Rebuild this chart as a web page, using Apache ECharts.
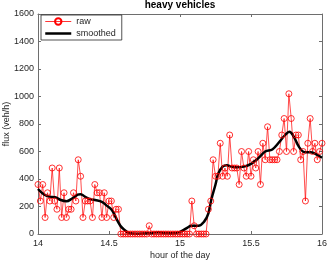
<!DOCTYPE html>
<html>
<head>
<meta charset="utf-8">
<script src="https://cdn.jsdelivr.net/npm/echarts@6/dist/echarts.min.js"></script>
<style>html,body{margin:0;padding:0;background:#fff}#c{width:327px;height:263px}</style>
</head>
<body>
<div id="c"></div>
<script>
// raw flux, one value per minute from 14:00 to 16:00 (veh/h)
var rawStartHour = 14;
var rawStepHours = 1 / 60;
var rawValues = [
  360,240,360,120,300,240,480,240,180,480,
  120,300,120,180,180,300,240,540,420,120,
  240,240,240,120,360,300,300,120,300,120,
  240,240,120,180,180,0,0,0,0,0,
  0,0,0,0,0,0,0,60,0,0,
  0,0,0,0,0,0,0,0,0,0,
  0,0,0,0,0,240,60,0,0,0,
  0,0,180,240,540,420,420,660,420,480,
  420,720,480,480,480,360,600,480,420,600,
  420,540,480,600,360,660,540,780,540,540,
  540,540,600,720,840,600,1020,840,600,720,
  720,540,600,240,660,840,600,660,540,600,
  660
];
// smoothed curve
var smoothHours = [14.00,14.04,14.08,14.12,14.16,14.20,14.24,14.28,14.30,14.33,14.37,14.41,14.45,14.48,14.52,14.55,14.58,14.60,14.64,14.70,14.80,14.85,14.90,14.95,15.00,15.05,15.08,15.13,15.17,15.20,15.22,15.25,15.27,15.30,15.33,15.36,15.40,15.45,15.50,15.55,15.60,15.65,15.70,15.74,15.77,15.80,15.84,15.88,15.92,15.95,16.00];
var smoothValues = [327,289,272,268,247,238,258,286,290,272,252,246,234,210,175,115,60,38,8,2,8,12,8,5,15,45,60,60,90,150,247,360,440,490,500,490,485,490,510,550,600,615,670,720,744,710,630,595,595,585,555];
var xTicks = [14, 14.5, 15, 15.5, 16];
var yTicks = [0, 200, 400, 600, 800, 1000, 1200, 1400, 1600];

var rawData = rawValues.map(function (v, i) { return [rawStartHour + i * rawStepHours, v]; });
var smoothData = smoothHours.map(function (h, i) { return [h, smoothValues[i]]; });

var font = 'Liberation Sans';
var axisCol = '#6e6e6e';
var txtCol = '#262626';

function xAx(pos, show) {
  return {
    type: 'value', position: pos, min: xTicks[0], max: xTicks[xTicks.length - 1], interval: 0.5,
    axisLine: { show: true, onZero: false, lineStyle: { color: axisCol, width: 1 } },
    axisTick: { show: true, inside: true, length: 3, lineStyle: { color: axisCol } },
    axisLabel: { show: show, color: txtCol, fontSize: 9, fontFamily: font, margin: 5,
      formatter: function (v) { return String(v); } },
    splitLine: { show: false },
    name: show ? 'hour of the day' : '', nameLocation: 'middle', nameGap: 17, nameMoveOverlap: false,
    nameTextStyle: { color: txtCol, fontSize: 9, fontFamily: font }
  };
}
function yAx(pos, show) {
  return {
    type: 'value', position: pos, min: yTicks[0], max: yTicks[yTicks.length - 1], interval: 200,
    axisLine: { show: true, onZero: false, lineStyle: { color: axisCol, width: 1 } },
    axisTick: { show: true, inside: true, length: 3, lineStyle: { color: axisCol } },
    axisLabel: { show: show, color: txtCol, fontSize: 9, fontFamily: font, margin: 4,
      formatter: function (v) { return String(v); } },
    splitLine: { show: false },
    name: show ? 'flux (veh/h)' : '', nameLocation: 'middle', nameGap: 27, nameRotate: 90, nameMoveOverlap: false,
    nameTextStyle: { color: txtCol, fontSize: 9, fontFamily: font }
  };
}

var chart = echarts.init(document.getElementById('c'), null, { renderer: 'canvas' });
chart.setOption({
  animation: false,
  backgroundColor: '#ffffff',
  title: {
    text: 'heavy vehicles', left: 180, textAlign: 'center', top: 0, padding: 0,
    textStyle: { fontSize: 10, fontWeight: 'bold', color: '#000', fontFamily: font }
  },
  grid: { left: 38, right: 5, top: 14, bottom: 29, containLabel: false, outerBoundsMode: 'none' },
  legend: {
    orient: 'vertical', left: 41, top: 15, itemWidth: 26, itemHeight: 8, itemGap: 3,
    padding: [2, 6, 2, 3], borderColor: '#262626', borderWidth: 0.8, backgroundColor: '#fff',
    textStyle: { fontSize: 9, color: txtCol, fontFamily: font },
    data: [
      { name: 'raw', lineStyle: { width: 0.8, color: '#ff0000' } },
      { name: 'smoothed', itemStyle: { opacity: 0 }, lineStyle: { width: 2.5, color: '#000' } }
    ]
  },
  xAxis: [xAx('bottom', true), xAx('top', false)],
  yAxis: [yAx('left', true), yAx('right', false)],
  series: [
    {
      name: 'raw', type: 'line', data: rawData, xAxisIndex: 0, yAxisIndex: 0,
      symbol: 'circle', symbolSize: 6, showAllSymbol: true,
      itemStyle: { color: 'rgba(255,0,0,0)', borderColor: '#ff0000', borderWidth: 0.8 },
      lineStyle: { color: '#ff0000', width: 0.7 }
    },
    {
      name: 'smoothed', type: 'line', data: smoothData, xAxisIndex: 0, yAxisIndex: 0,
      smooth: 0.4, showSymbol: false, symbol: 'none',
      itemStyle: { color: '#000' },
      lineStyle: { color: '#000', width: 2.5 }
    }
  ]
});
</script>
</body>
</html>
